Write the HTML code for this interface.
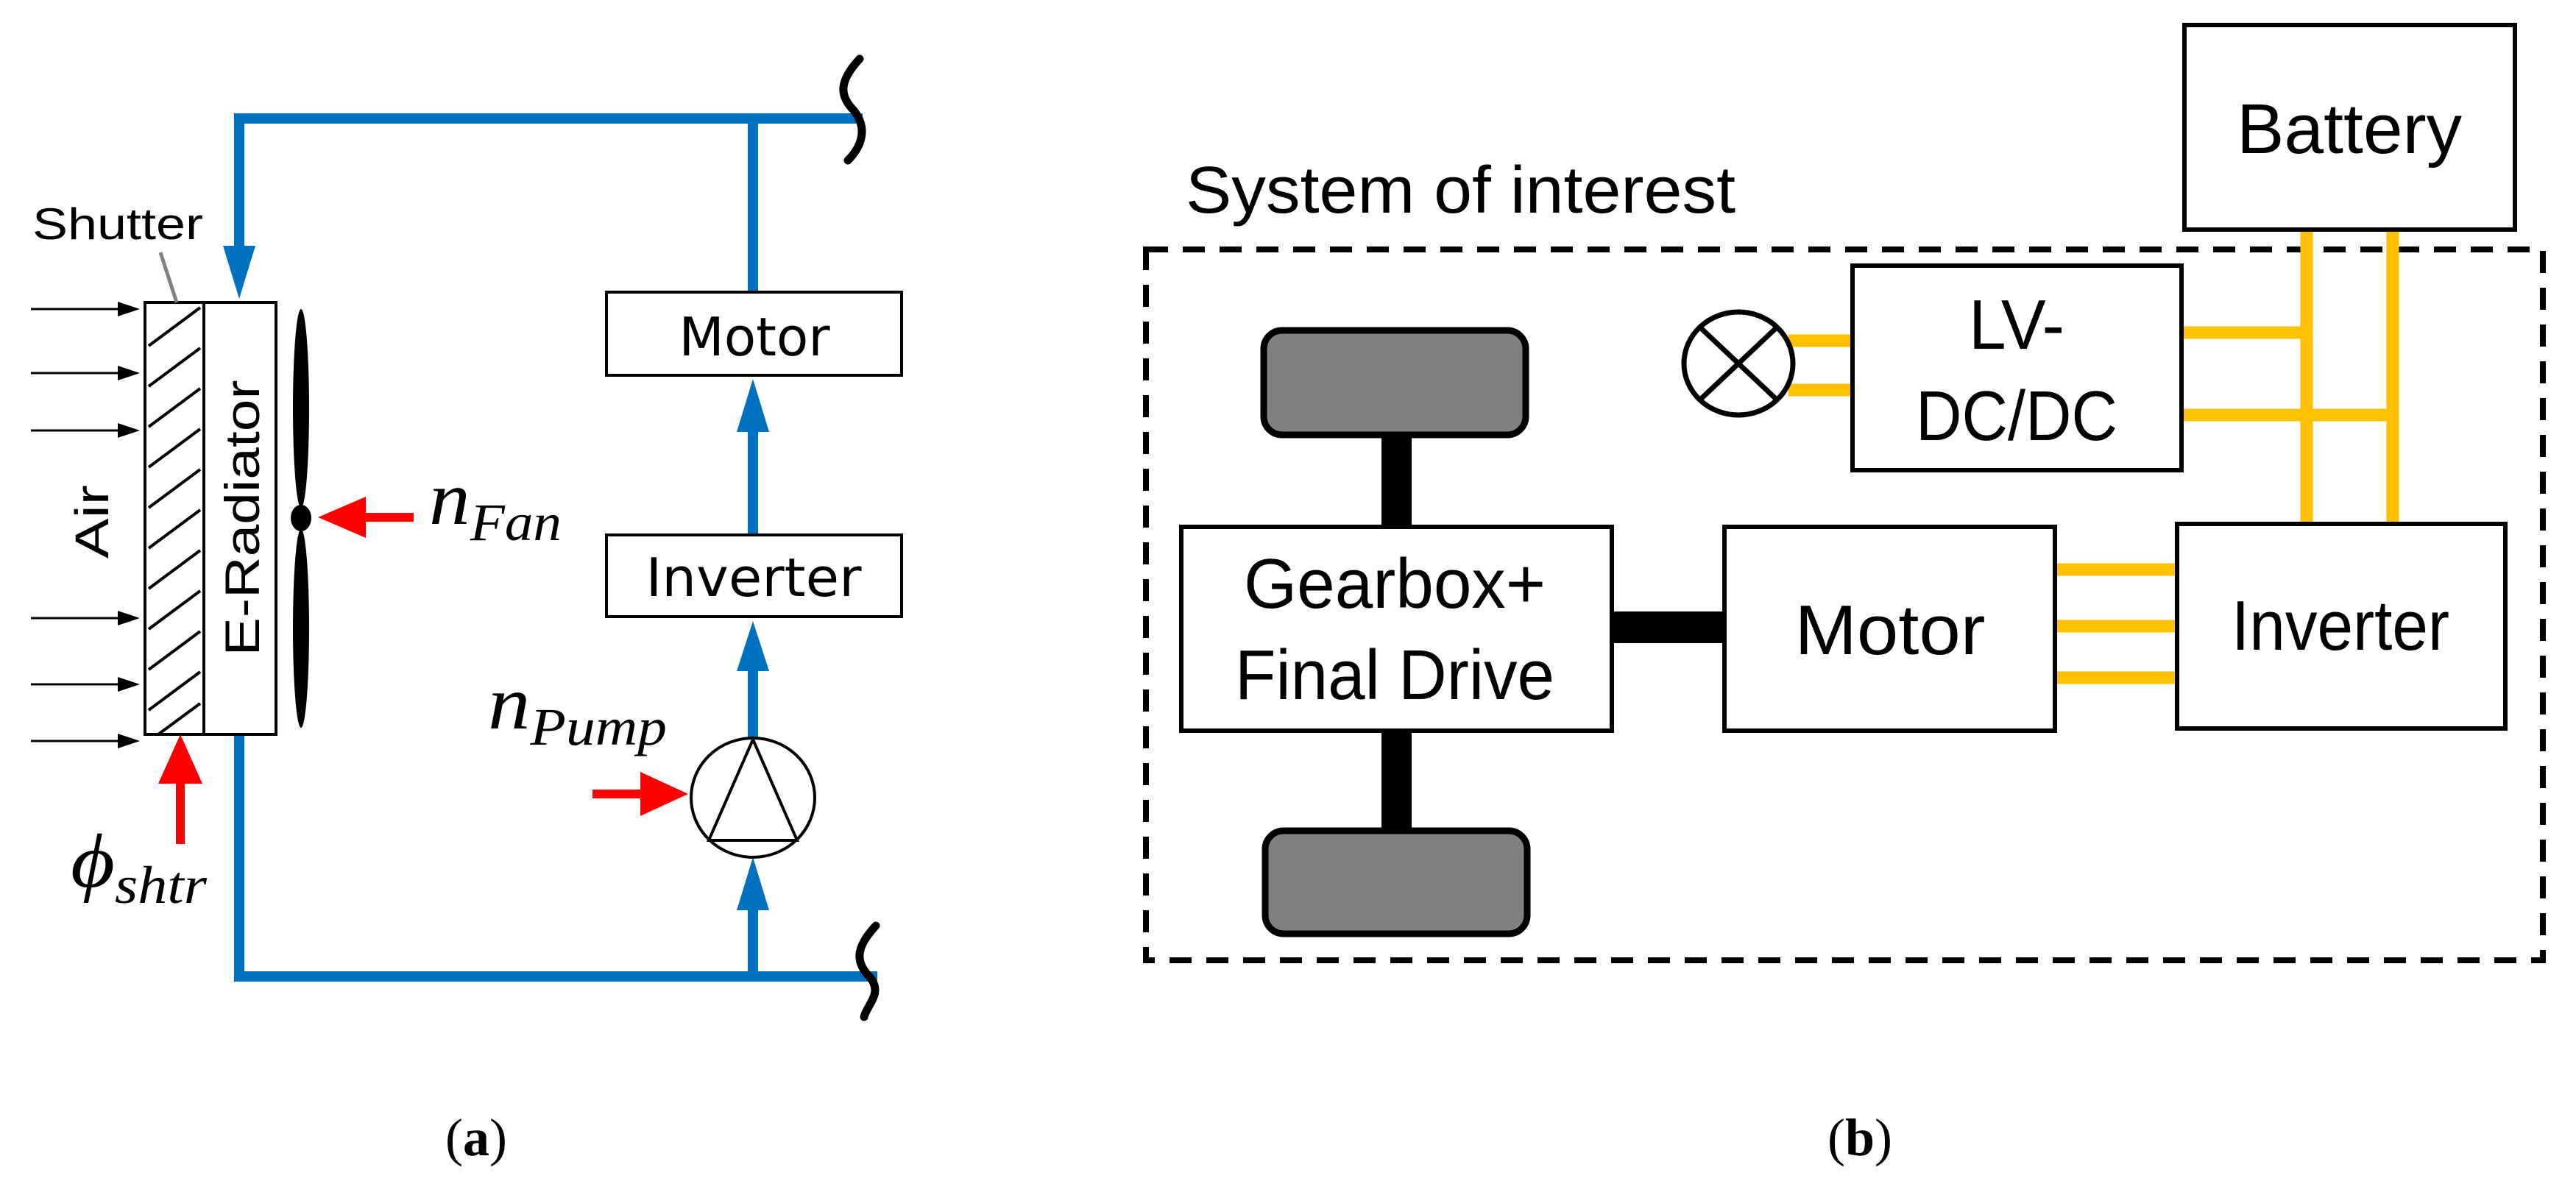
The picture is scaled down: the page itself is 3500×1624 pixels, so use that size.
<!DOCTYPE html>
<html><head><meta charset="utf-8"><style>html,body{margin:0;padding:0;background:#fff}svg{display:block}</style></head>
<body>
<svg width="3500" height="1624" viewBox="0 0 3500 1624" xmlns="http://www.w3.org/2000/svg">
<!-- ===== Panel (a) ===== -->
<g stroke="#0070C0" stroke-width="14" fill="none" stroke-linecap="square">
<polyline points="325,336 325,161 1165,161"/>
<line x1="1023" y1="161" x2="1023" y2="397"/>
<line x1="1023" y1="587" x2="1023" y2="727"/>
<line x1="1023" y1="912" x2="1023" y2="1002"/>
<polyline points="325,998 325,1327 1185,1327"/>
<line x1="1023" y1="1327" x2="1023" y2="1237"/>
</g>
<g fill="#0070C0">
<polygon points="303,334 347,334 325,406"/>
<polygon points="1001,587 1045,587 1023,515"/>
<polygon points="1001,912 1045,912 1023,844"/>
<polygon points="1001,1237 1045,1237 1023,1165"/>
</g>
<g stroke="#000" stroke-width="11" fill="none" stroke-linecap="round">
<path d="M1168,80 C1140,110 1140,130 1160,150 C1180,175 1170,200 1152,218"/>
<path d="M1190,1258 C1162,1288 1162,1308 1182,1328 C1200,1350 1178,1365 1174,1382"/>
</g>
<g stroke="#000" stroke-width="4" fill="#fff">
<rect x="824" y="397" width="401" height="113"/>
<rect x="824" y="727" width="401" height="111"/>
<rect x="197" y="411" width="80" height="587"/>
<rect x="277" y="411" width="98" height="587"/>
</g>
<g stroke="#000" stroke-width="4">
<line x1="202" y1="470" x2="272" y2="418"/>
<line x1="202" y1="525" x2="272" y2="473"/>
<line x1="202" y1="580" x2="272" y2="528"/>
<line x1="202" y1="635" x2="272" y2="583"/>
<line x1="202" y1="690" x2="272" y2="638"/>
<line x1="202" y1="745" x2="272" y2="693"/>
<line x1="202" y1="800" x2="272" y2="748"/>
<line x1="202" y1="855" x2="272" y2="803"/>
<line x1="202" y1="910" x2="272" y2="858"/>
<line x1="202" y1="965" x2="272" y2="913"/>
<line x1="215" y1="998" x2="272" y2="956"/>
</g>
<line x1="218" y1="343" x2="240" y2="411" stroke="#808080" stroke-width="5"/>
<text x="44" y="325" font-family="Liberation Sans, sans-serif" font-size="60" textLength="232" lengthAdjust="spacingAndGlyphs">Shutter</text>
<g stroke="#000" stroke-width="3">
<line x1="42" y1="420" x2="170" y2="420"/><line x1="42" y1="507" x2="170" y2="507"/><line x1="42" y1="585" x2="170" y2="585"/>
<line x1="42" y1="840" x2="170" y2="840"/><line x1="42" y1="930" x2="170" y2="930"/><line x1="42" y1="1007" x2="170" y2="1007"/>
</g>
<g fill="#000">
<polygon points="160,410 190,420 160,430"/><polygon points="160,497 190,507 160,517"/><polygon points="160,575 190,585 160,595"/>
<polygon points="160,830 190,840 160,850"/><polygon points="160,920 190,930 160,940"/><polygon points="160,997 190,1007 160,1017"/>
</g>
<text transform="translate(147,709) rotate(-90)" text-anchor="middle" font-family="Liberation Sans, sans-serif" font-size="64" textLength="100" lengthAdjust="spacingAndGlyphs">Air</text>
<text transform="translate(352,704) rotate(-90)" text-anchor="middle" font-family="Liberation Sans, sans-serif" font-size="66" textLength="375" lengthAdjust="spacingAndGlyphs">E-Radiator</text>
<ellipse cx="409" cy="555" rx="11" ry="135" fill="#000"/>
<ellipse cx="409" cy="854" rx="11" ry="135" fill="#000"/>
<ellipse cx="409" cy="704" rx="14" ry="18" fill="#000"/>
<g fill="#f00">
<rect x="490" y="697" width="72" height="12"/><polygon points="432,703 497,675 497,731"/>
<rect x="239" y="1060" width="12" height="87"/><polygon points="245,998 215,1065 275,1065"/>
<rect x="805" y="1073" width="70" height="12"/><polygon points="935,1079 870,1049 870,1109"/>
</g>
<ellipse cx="1023" cy="1084" rx="84" ry="81" fill="#fff" stroke="#000" stroke-width="4"/>
<polygon points="1023,1005 963,1142 1083,1142" fill="none" stroke="#000" stroke-width="4"/>
<text x="1025" y="483" text-anchor="middle" font-family="DejaVu Sans, sans-serif" font-size="72" textLength="205" lengthAdjust="spacingAndGlyphs">Motor</text>
<text x="1024" y="810" text-anchor="middle" font-family="DejaVu Sans, sans-serif" font-size="72" textLength="293" lengthAdjust="spacingAndGlyphs">Inverter</text>
<g font-family="Liberation Serif, serif" font-style="italic">
<text x="583" y="712" font-size="104" textLength="180" lengthAdjust="spacingAndGlyphs">n<tspan font-size="72" dy="22">Fan</tspan></text>
<text x="663" y="990" font-size="104" textLength="243" lengthAdjust="spacingAndGlyphs">n<tspan font-size="72" dy="22">Pump</tspan></text>
<text x="96" y="1205" font-size="104" textLength="185" lengthAdjust="spacingAndGlyphs">ϕ<tspan font-size="72" dy="22">shtr</tspan></text>
</g>
<!-- ===== Panel (b) ===== -->
<rect x="1557" y="339" width="1898" height="966" fill="none" stroke="#000" stroke-width="8" stroke-dasharray="30,20"/>
<text x="1611" y="289" font-family="Liberation Sans Narrow, Liberation Sans, sans-serif" font-size="90" textLength="747" lengthAdjust="spacingAndGlyphs">System of interest</text>
<g stroke="#FFC000" stroke-width="17">
<line x1="3134" y1="312" x2="3134" y2="712"/>
<line x1="3251" y1="312" x2="3251" y2="712"/>
<line x1="2964" y1="452" x2="3134" y2="452"/>
<line x1="2964" y1="564" x2="3251" y2="564"/>
<line x1="2430" y1="463" x2="2517" y2="463"/>
<line x1="2430" y1="530" x2="2517" y2="530"/>
<line x1="2792" y1="774" x2="2958" y2="774"/>
<line x1="2792" y1="851" x2="2958" y2="851"/>
<line x1="2792" y1="921" x2="2958" y2="921"/>
</g>
<rect x="1877" y="585" width="41" height="135" fill="#000"/>
<rect x="1877" y="990" width="41" height="145" fill="#000"/>
<rect x="2188" y="831" width="157" height="43" fill="#000"/>
<rect x="1717" y="449" width="356" height="142" rx="25" fill="#808080" stroke="#000" stroke-width="9"/>
<rect x="1719" y="1129" width="356" height="140" rx="25" fill="#808080" stroke="#000" stroke-width="9"/>
<g fill="#fff" stroke="#000" stroke-width="6">
<rect x="2968" y="34" width="449" height="278"/>
<rect x="2517" y="361" width="447" height="278"/>
<rect x="1605" y="716" width="585" height="277"/>
<rect x="2343" y="716" width="449" height="277"/>
<rect x="2958" y="712" width="446" height="278"/>
</g>
<ellipse cx="2362" cy="494" rx="74" ry="70" fill="#fff" stroke="#000" stroke-width="7"/>
<line x1="2310" y1="445" x2="2414" y2="543" stroke="#000" stroke-width="7"/>
<line x1="2414" y1="445" x2="2310" y2="543" stroke="#000" stroke-width="7"/>
<g font-family="Liberation Sans Narrow, Liberation Sans, sans-serif" font-size="96" text-anchor="middle">
<text x="3192" y="208" textLength="306" lengthAdjust="spacingAndGlyphs">Battery</text>
<text x="2740" y="474" textLength="130" lengthAdjust="spacingAndGlyphs">LV-</text>
<text x="2740" y="598" textLength="274" lengthAdjust="spacingAndGlyphs">DC/DC</text>
<text x="1895" y="826" textLength="410" lengthAdjust="spacingAndGlyphs">Gearbox+</text>
<text x="1895" y="950" textLength="434" lengthAdjust="spacingAndGlyphs">Final Drive</text>
<text x="2568" y="889" textLength="259" lengthAdjust="spacingAndGlyphs">Motor</text>
<text x="3180" y="883" textLength="296" lengthAdjust="spacingAndGlyphs">Inverter</text>
</g>
<g font-family="Liberation Serif, serif" font-size="72" text-anchor="middle">
<text x="647" y="1570">(<tspan font-weight="bold">a</tspan>)</text>
<text x="2527" y="1570">(<tspan font-weight="bold">b</tspan>)</text>
</g>
</svg>
</body></html>
